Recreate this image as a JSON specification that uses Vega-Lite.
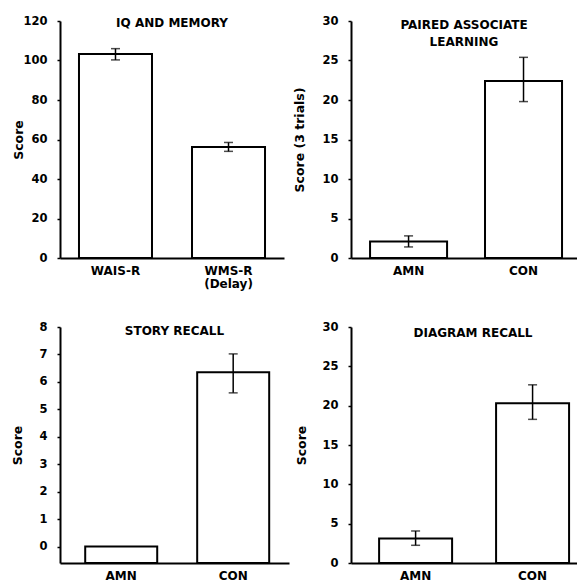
{
  "$schema": "https://vega.github.io/schema/vega-lite/v6.json",
  "background": "white",
  "padding": {"left": 11, "top": 15, "right": 0, "bottom": 0},
  "bounds": "flush",
  "columns": 2,
  "spacing": {"column": 62, "row": 69},
  "data": {"values": [
    {"panel": "iq", "group": "WAIS-R", "mean": 103.3, "lo": 100.3, "hi": 106.0},
    {"panel": "iq", "group": "WMS-R (Delay)", "mean": 56.2, "lo": 54.0, "hi": 58.5},
    {"panel": "pal", "group": "AMN", "mean": 2.1, "lo": 1.4, "hi": 2.8},
    {"panel": "pal", "group": "CON", "mean": 22.4, "lo": 19.8, "hi": 25.4},
    {"panel": "story", "group": "AMN", "mean": 0.0, "lo": 0.0, "hi": 0.0},
    {"panel": "story", "group": "CON", "mean": 6.35, "lo": 5.6, "hi": 7.02},
    {"panel": "diagram", "group": "AMN", "mean": 3.1, "lo": 2.25, "hi": 4.07},
    {"panel": "diagram", "group": "CON", "mean": 20.3, "lo": 18.26, "hi": 22.65}
  ]},
  "config": {
    "view": {"stroke": null},
    "font": "DejaVu Sans",
    "axis": {
      "domainColor": "black", "domainWidth": 2, "tickColor": "black", "tickWidth": 1.5,
      "labelColor": "black", "titleColor": "black", "grid": false, "labelOverlap": false,
      "labelFont": "DejaVu Sans", "titleFont": "DejaVu Sans", "labelFontSize": 11.5, "labelFontWeight": "bold",
      "titleFontSize": 12.5, "titleFontWeight": "bold"
    },
    "axisX": {"ticks": false, "labelPadding": 7, "labelAngle": 0, "labelFontSize": 12, "labelLineHeight": 13},
    "axisY": {"tickSize": 3, "labelPadding": 10, "titleBaseline": "middle"},
    "title": {"font": "DejaVu Sans", "fontSize": 12, "fontWeight": "bold", "color": "black", "anchor": "middle", "frame": "group", "baseline": "alphabetic", "lineHeight": 17}
  },
  "concat": [
    {
      "width": 224, "height": 237,
      "title": {"text": "IQ AND MEMORY", "offset": -8, "dy": 7},
      "transform": [{"filter": "datum.panel == 'iq'"}],
      "encoding": {
        "x": {"field": "group", "type": "nominal", "sort": null,
          "scale": {"paddingInner": 0.354, "paddingOuter": 0.168, "align": 0.5},
          "axis": {"title": null, "labelExpr": "split(datum.label, ' ')"}}
      },
      "layer": [
        {"mark": {"type": "bar", "fill": "white", "stroke": "black", "strokeWidth": 2},
         "encoding": {"y": {"field": "mean", "type": "quantitative", "title": "Score",
           "scale": {"domain": [0, 120], "nice": false},
           "axis": {"values": [0, 20, 40, 60, 80, 100, 120], "titleX": -42}}}},
        {"mark": {"type": "errorbar", "ticks": {"size": 9}, "thickness": 1.5, "color": "black"},
         "encoding": {"y": {"field": "lo", "type": "quantitative", "title": "Score",
           "scale": {"domain": [0, 120], "nice": false},
           "axis": {"values": [0, 20, 40, 60, 80, 100, 120], "titleX": -42}}, "y2": {"field": "hi"}}}
      ]
    },
    {
      "width": 226, "height": 237,
      "title": {"text": ["PAIRED ASSOCIATE", "LEARNING"], "offset": -8, "dy": 26},
      "transform": [{"filter": "datum.panel == 'pal'"}],
      "encoding": {
        "x": {"field": "group", "type": "nominal", "sort": null,
          "scale": {"paddingInner": 0.33, "paddingOuter": 0.148, "align": 0.56},
          "axis": {"title": null}}
      },
      "layer": [
        {"mark": {"type": "bar", "fill": "white", "stroke": "black", "strokeWidth": 2},
         "encoding": {"y": {"field": "mean", "type": "quantitative", "title": "Score (3 trials)",
           "scale": {"domain": [0, 30], "nice": false},
           "axis": {"values": [0, 5, 10, 15, 20, 25, 30], "titleX": -52}}}},
        {"mark": {"type": "errorbar", "ticks": {"size": 9}, "thickness": 1.5, "color": "black"},
         "encoding": {"y": {"field": "lo", "type": "quantitative", "title": "Score (3 trials)",
           "scale": {"domain": [0, 30], "nice": false},
           "axis": {"values": [0, 5, 10, 15, 20, 25, 30], "titleX": -52}}, "y2": {"field": "hi"}}}
      ]
    },
    {
      "width": 229, "height": 236,
      "title": {"text": "STORY RECALL", "offset": -8, "dy": 9},
      "transform": [{"filter": "datum.panel == 'story'"}],
      "encoding": {
        "x": {"field": "group", "type": "nominal", "sort": null,
          "scale": {"paddingInner": 0.357, "paddingOuter": 0.201, "align": 0.56},
          "axis": {"title": null}}
      },
      "layer": [
        {"mark": {"type": "bar", "fill": "white", "stroke": "black", "strokeWidth": 2},
         "encoding": {"y": {"field": "mean", "type": "quantitative", "title": "Score",
           "scale": {"domain": [-0.6, 8], "nice": false, "zero": false},
           "axis": {"values": [0, 1, 2, 3, 4, 5, 6, 7, 8], "titleX": -43}},
           "y2": {"datum": -0.6}}},
        {"mark": {"type": "errorbar", "ticks": {"size": 9}, "thickness": 1.5, "color": "black"},
         "transform": [{"filter": "datum.hi > datum.lo"}],
         "encoding": {"y": {"field": "lo", "type": "quantitative", "title": "Score",
           "scale": {"domain": [-0.6, 8], "nice": false, "zero": false},
           "axis": {"values": [0, 1, 2, 3, 4, 5, 6, 7, 8], "titleX": -43}}, "y2": {"field": "hi"}}}
      ]
    },
    {
      "width": 226, "height": 236,
      "title": {"text": "DIAGRAM RECALL", "offset": -10, "dy": 9, "dx": 9},
      "transform": [{"filter": "datum.panel == 'diagram'"}],
      "encoding": {
        "x": {"field": "group", "type": "nominal", "sort": null,
          "scale": {"paddingInner": 0.376, "paddingOuter": 0.154, "align": 0.78},
          "axis": {"title": null}}
      },
      "layer": [
        {"mark": {"type": "bar", "fill": "white", "stroke": "black", "strokeWidth": 2},
         "encoding": {"y": {"field": "mean", "type": "quantitative", "title": "Score",
           "scale": {"domain": [0, 30], "nice": false},
           "axis": {"values": [0, 5, 10, 15, 20, 25, 30], "titleX": -50}}}},
        {"mark": {"type": "errorbar", "ticks": {"size": 9}, "thickness": 1.5, "color": "black"},
         "encoding": {"y": {"field": "lo", "type": "quantitative", "title": "Score",
           "scale": {"domain": [0, 30], "nice": false},
           "axis": {"values": [0, 5, 10, 15, 20, 25, 30], "titleX": -50}}, "y2": {"field": "hi"}}}
      ]
    }
  ]
}
